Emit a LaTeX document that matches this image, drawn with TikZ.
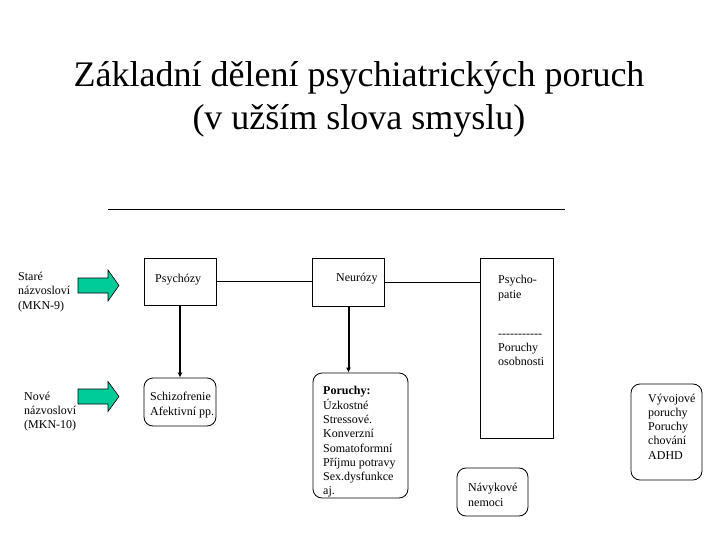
\documentclass[tikz,border=0pt]{standalone}
\usepackage{fontspec}
\setmainfont{Liberation Serif}
\usetikzlibrary{arrows.meta}
\definecolor{arrgreen}{RGB}{0,204,153}
\begin{document}
\begin{tikzpicture}[x=1pt,y=-1pt,
  box/.style={draw, line width=0.8pt, inner sep=0pt},
  rbox/.style={draw, line width=0.8pt, inner sep=0pt, rounded corners=9pt},
  txt/.style={font=\fontsize{12}{14.3}\selectfont, align=left, inner sep=0pt, anchor=west},
  conn/.style={line width=0.8pt},
  down/.style={line width=2pt, -{Latex[length=5pt,width=5pt]}},
  garrow/.style={draw=black, line width=0.6pt, fill=arrgreen}
]
\useasboundingbox (0,0) rectangle (720,540);
% title
\node[font=\fontsize{36}{43}\selectfont, align=center] (title) at (359,99) {Základní dělení psychiatrických poruch\\(v užším slova smyslu)};
\coordinate (hl1) at (108,210);
\coordinate (hl2) at (565,210);
\draw[line width=1pt] (hl1) -- (hl2);
% boxes
\node[box, minimum width=72pt, minimum height=47pt] (psy) at (180,281.5) {};
\node[box, minimum width=72pt, minimum height=48pt] (neu) at (348.5,282) {};
\node[box, minimum width=73pt, minimum height=180pt] (pat) at (516.5,348) {};
\node[rbox, minimum width=72pt, minimum height=48pt] (sch) at (180,402) {};
\node[rbox, minimum width=95pt, minimum height=125pt] (por) at (360.5,435.5) {};
\node[rbox, minimum width=71pt, minimum height=48pt] (nav) at (492.5,492) {};
\node[rbox, minimum width=71pt, minimum height=96pt] (vyv) at (666.5,432) {};
% texts
\node[txt] (psyt) at (155,280) {Psychózy};
\node[txt] (neut) at (336,279) {Neurózy};
\node[txt] (patt1) at (498,288) {Psycho-\\patie};
\node[txt] (patt2) at (498,350) {{-}{-}{-}{-}{-}{-}{-}{-}{-}{-}{-}\\Poruchy\\osobnosti};
\node[txt] (scht) at (150,405) {Schizofrenie\\Afektivní pp.};
\node[txt] (port) at (323,442) {\textbf{Poruchy:}\\Úzkostné\\Stressové.\\Konverzní\\Somatoformní\\Příjmu potravy\\Sex.dysfunkce\\aj.};
\node[txt] (navt) at (468,495) {Návykové\\nemoci};
\node[txt] (vyvt) at (648,426.5) {Vývojové\\poruchy\\Poruchy\\chování\\ADHD};
\node[txt] (stare) at (18,292) {Staré\\názvosloví\\(MKN-9)};
\node[txt] (nove) at (24,411.5) {Nové\\názvosloví\\(MKN-10)};
% green arrows
\draw[garrow] (78,278) -- (108,278) -- (108,270) -- (119,285.5) -- (108,301) -- (108,293) -- (78,293) -- cycle;
\draw[garrow] (78,389) -- (108,389) -- (108,381.5) -- (119,396.5) -- (108,411.5) -- (108,404) -- (78,404) -- cycle;
% connectors
\draw[conn] (psy.east) -- (neu.west |- psy.east);
\draw[conn] (neu.east) -- (pat.west |- neu.east);
\draw[down] (psy.south) -- (sch.north);
\draw[down] (neu.south) -- (por.north -| neu.south);
\end{tikzpicture}
\end{document}
